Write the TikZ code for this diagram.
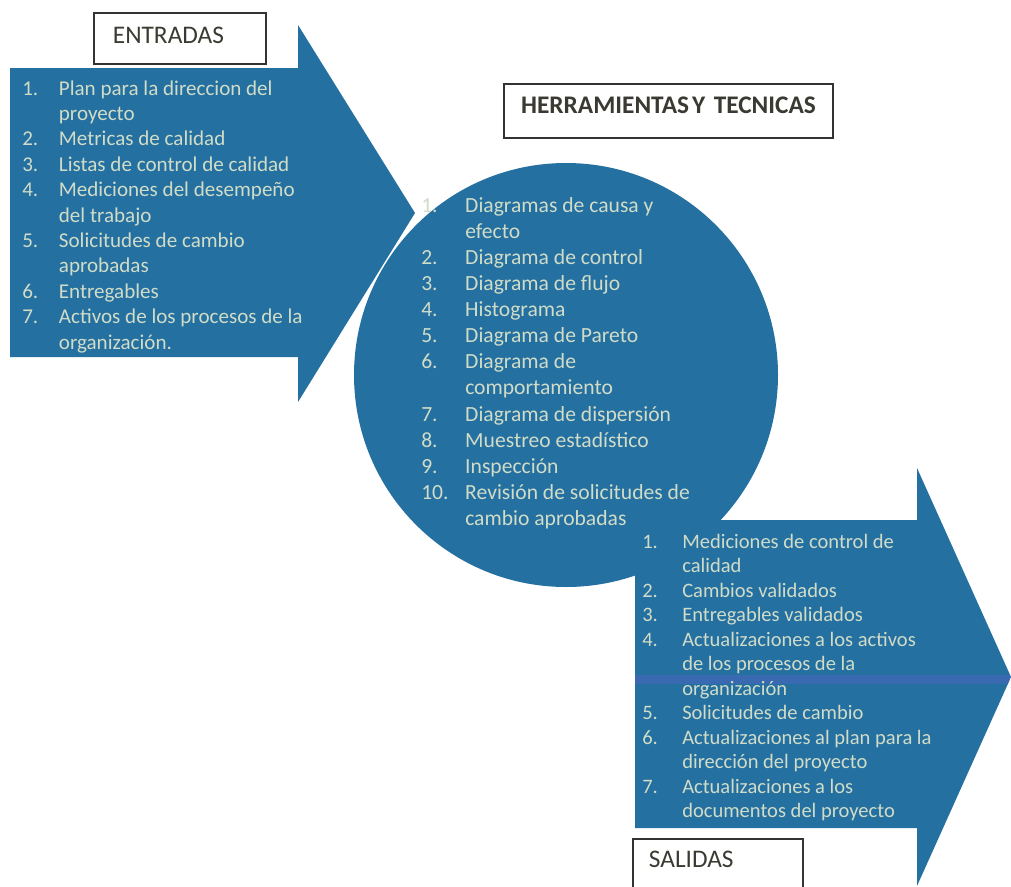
\documentclass[tikz,border=0pt]{standalone}
\usepackage{fontspec}
\setmainfont{Carlito}
\definecolor{arrowblue}{HTML}{2470A0}
\definecolor{listtext}{HTML}{D0DCC8}
\definecolor{labeltext}{HTML}{3A3A32}
\definecolor{boxline}{HTML}{333333}
\definecolor{scanband}{HTML}{6A5CD8}
\newlength\numw
\newcommand\li[2]{\noindent\makebox[\numw][l]{#1}#2\par}
\newcommand\lc[1]{\noindent\hspace*{\numw}#1\par}
\begin{document}
\begin{tikzpicture}[x=0.75pt,y=-0.75pt,
  shapefill/.style={fill=arrowblue},
  labelbox/.style={draw=boxline, line width=1.4pt, fill=white, inner ysep=0pt,
    anchor=north west, text=labeltext, font=\fontsize{19}{22}\selectfont},
  listnode/.style={inner sep=0pt, anchor=base west, text=listtext}]
\clip (0,0) rectangle (1011,886);
\fill[white] (0,0) rectangle (1011,886);
% left arrow (ENTRADAS)
\fill[shapefill] (10,68) -- (298,68) -- (298,25) -- (415,213) -- (298,402) -- (298,357) -- (10,357) -- cycle;
% central circle
\fill[shapefill] (566,375) circle[radius=159pt];
% right arrow (SALIDAS)
\fill[shapefill] (635,520) -- (917,520) -- (917,468) -- (1011,677) -- (917,886) -- (917,828) -- (635,828) -- cycle;
\begin{scope}
\clip (635,520) -- (917,520) -- (917,468) -- (1011,677) -- (917,886) -- (917,828) -- (635,828) -- cycle;
\fill[scanband, opacity=.3] (635,675) rectangle (1011,684);
\end{scope}
% lists
\node[listnode] (inlist) at (22,95) {\begin{minipage}[t]{300pt}\fontsize{15.8}{19.05}\selectfont\setlength\numw{27.5pt}%
\li{1.}{Plan para la direccion del}
\lc{proyecto}
\li{2.}{Metricas de calidad}
\li{3.}{Listas de control de calidad}
\li{4.}{Mediciones del desempeño}
\lc{del trabajo}
\li{5.}{Solicitudes de cambio}
\lc{aprobadas}
\li{6.}{Entregables}
\li{7.}{Activos de los procesos de la}
\lc{organización.}
\end{minipage}};
\node[listnode] (toollist) at (421,212) {\begin{minipage}[t]{300pt}\fontsize{16.2}{19.6}\selectfont\setlength\numw{33pt}%
\li{1.}{Diagramas de causa y}
\lc{efecto}
\li{2.}{Diagrama de control}
\li{3.}{Diagrama de flujo}
\li{4.}{Histograma}
\li{5.}{Diagrama de Pareto}
\li{6.}{Diagrama de}
\lc{comportamiento}
\li{7.}{Diagrama de dispersión}
\li{8.}{Muestreo estadístico}
\li{9.}{Inspección}
\li{10.}{Revisión de solicitudes de}
\lc{cambio aprobadas}
\end{minipage}};
\node[listnode] (outlist) at (642,548) {\begin{minipage}[t]{300pt}\fontsize{15.4}{18.4}\selectfont\setlength\numw{30pt}%
\li{1.}{Mediciones de control de}
\lc{calidad}
\li{2.}{Cambios validados}
\li{3.}{Entregables validados}
\li{4.}{Actualizaciones a los activos}
\lc{de los procesos de la}
\lc{organización}
\li{5.}{Solicitudes de cambio}
\li{6.}{Actualizaciones al plan para la}
\lc{dirección del proyecto}
\li{7.}{Actualizaciones a los}
\lc{documentos del proyecto}
\end{minipage}};
% label boxes
\node[labelbox, inner xsep=14.25pt, text width=100.5pt, align=left,
  text height=23.25pt, text depth=15pt] (entradas) at (93,12) {ENTRADAS};
\node[labelbox, inner xsep=0pt, text width=246.75pt, align=center,
  text height=22.5pt, text depth=18pt, font={\fontsize{19}{22}\selectfont\bfseries}] (herramientas) at (503,83) {HERRAMIENTAS\hspace{0.12em}Y TECNICAS};
\node[labelbox, inner xsep=12pt, text width=103.5pt, align=left,
  text height=21.75pt, text depth=24.75pt] (salidas) at (632,838) {SALIDAS};
\end{tikzpicture}
\end{document}
